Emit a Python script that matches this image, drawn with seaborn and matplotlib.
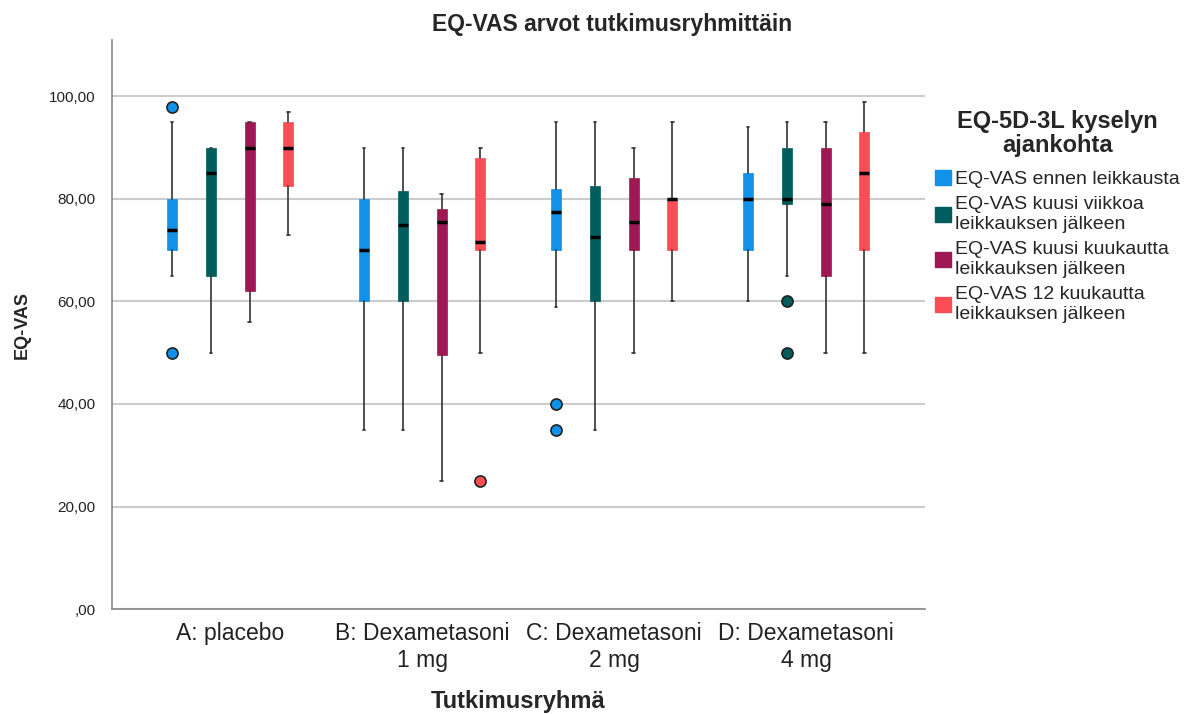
import matplotlib
matplotlib.use("Agg")
import matplotlib.pyplot as plt
from matplotlib.patches import Patch
from matplotlib.ticker import FuncFormatter
import seaborn as sns

# %% Data
groups = ["A: placebo", "B: Dexametasoni\n1 mg", "C: Dexametasoni\n2 mg", "D: Dexametasoni\n4 mg"]
series = ["EQ-VAS ennen leikkausta",
          "EQ-VAS kuusi viikkoa\nleikkauksen jälkeen",
          "EQ-VAS kuusi kuukautta\nleikkauksen jälkeen",
          "EQ-VAS 12 kuukautta\nleikkauksen jälkeen"]
colors = ["#1192e8", "#005d5d", "#9f1853", "#fa4d56"]

# one list per series, one value per group
whislo = [[65, 35, 59, 60], [50, 35, 35, 65], [56, 25, 50, 50], [73, 50, 60, 50]]
q1 = [[70, 60, 70, 70], [65, 60, 60, 79], [62, 49.5, 70, 65], [82.5, 70, 70, 70]]
med = [[74, 70, 77.5, 80], [85, 75, 72.5, 80], [90, 75.5, 75.5, 79], [90, 71.5, 80, 85]]
q3 = [[80, 80, 82, 85], [90, 81.5, 82.5, 90], [95, 78, 84, 90], [95, 88, 80, 93]]
whishi = [[95, 90, 95, 94], [90, 90, 95, 95], [95, 81, 90, 95], [97, 90, 95, 99]]
fliers = [[[98, 50], [], [40, 35], []],
          [[], [], [], [60, 50]],
          [[], [], [], []],
          [[], [25], [], []]]

# %% Plot
sns.set_style("white")
plt.rcParams["font.family"] = ["Liberation Sans", "DejaVu Sans"]

fig = plt.figure(figsize=(11.87, 7.14), dpi=100)
ax = fig.add_axes([0.0944, 0.147, 0.685, 0.797])

step = 0.2026
width = 0.052
for s in range(len(series)):
    stats = []
    for g in range(len(groups)):
        stats.append(dict(med=med[s][g], q1=q1[s][g], q3=q3[s][g],
                          whislo=whislo[s][g], whishi=whishi[s][g],
                          fliers=fliers[s][g]))
    pos = [g + (s - 1.5) * step for g in range(len(groups))]
    ax.bxp(stats, positions=pos, widths=width, patch_artist=True,
           showfliers=True, manage_ticks=False, zorder=3,
           boxprops=dict(facecolor=colors[s], edgecolor=colors[s], linewidth=0.5),
           medianprops=dict(color="black", linewidth=2.5),
           whiskerprops=dict(color="#333333", linewidth=1.2),
           capprops=dict(color="#333333", linewidth=1.2),
           capwidths=0.012,
           flierprops=dict(marker="o", markerfacecolor=colors[s],
                           markeredgecolor="#222222", markersize=8,
                           markeredgewidth=1.2))

ax.set_xlim(-0.615, 3.62)
ax.set_ylim(0, 111)
ax.set_xticks(range(len(groups)))
ax.set_xticklabels(groups, fontsize=16.5, color="#222222", linespacing=1.25)
ax.set_yticks([0, 20, 40, 60, 80, 100])
ax.yaxis.set_major_formatter(FuncFormatter(
    lambda v, p: ",00" if v == 0 else f"{v:.2f}".replace(".", ",")))
ax.tick_params(axis="y", labelsize=11, length=0, pad=12, colors="#222222")
ax.tick_params(axis="x", length=0, pad=9)
ax.grid(axis="y", color="#cccccc", linewidth=1.5, zorder=0)
ax.set_axisbelow(True)
for side in ["top", "right"]:
    ax.spines[side].set_visible(False)
for side in ["left", "bottom"]:
    ax.spines[side].set_color("#888888")
    ax.spines[side].set_linewidth(1.2)

ax.set_ylabel("EQ-VAS", fontsize=13, fontweight="bold", labelpad=13)
fig.text(0.4365, 0.018, "Tutkimusryhmä", ha="center", va="center",
         fontsize=17, fontweight="bold")
fig.text(0.516, 0.965, "EQ-VAS arvot tutkimusryhmittäin", ha="center",
         va="center", fontsize=16.5, fontweight="bold")

handles = [Patch(facecolor=c, edgecolor=c) for c in colors]
leg = fig.legend(handles, series, loc="upper left",
                 bbox_to_anchor=(0.773, 0.87), frameon=False, fontsize=14,
                 title="EQ-5D-3L kyselyn\najankohta", handlelength=0.8,
                 handleheight=0.8, handletextpad=0.25, labelspacing=0.42)
leg.get_title().set_fontweight("bold")
leg.get_title().set_fontsize(17)
leg.get_title().set_multialignment("center")
leg.get_title().set_linespacing(1.05)
leg._legend_box.align = "center"
leg._legend_box.sep = 9
for t in leg.get_texts():
    t.set_linespacing(1.22)

fig.savefig("out.png", dpi=100)
